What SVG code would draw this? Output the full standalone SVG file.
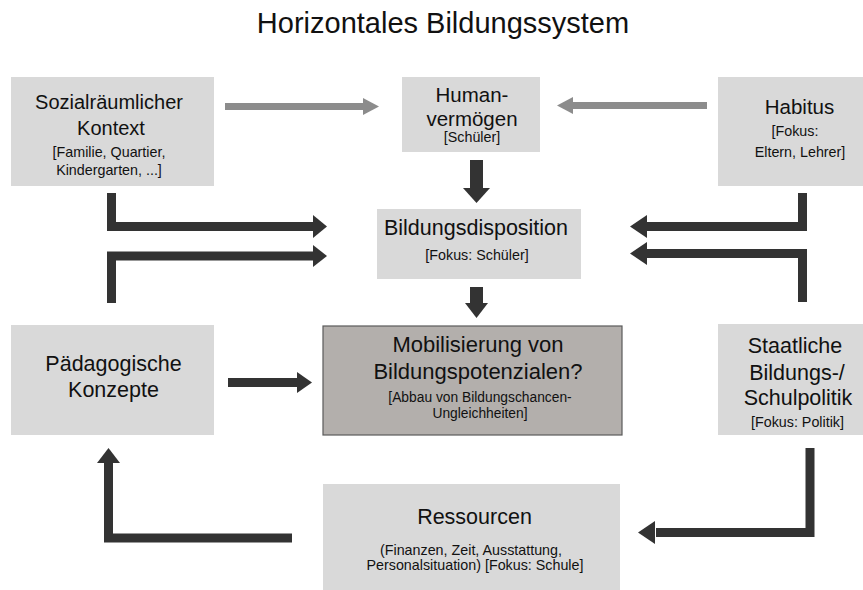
<svg xmlns="http://www.w3.org/2000/svg" width="863" height="590" viewBox="0 0 863 590">
<style>
text{font-family:"Liberation Sans",Arial,sans-serif;fill:#111;text-anchor:middle}
.t{font-size:29px}
.l{font-size:21.5px}
.s{font-size:14.3px}
.box{fill:#d9d9d9}
.dark{fill:#b3afac;stroke:#5a5a5a;stroke-width:1.2}
.bar{fill:none;stroke:#333;stroke-width:9;stroke-linejoin:miter}
.head{fill:#333}
.gbar{fill:none;stroke:#8c8c8c;stroke-width:7}
.ghead{fill:#8c8c8c}
</style>
<rect width="863" height="590" fill="#fff"/>
<text class="t" x="443" y="33">Horizontales Bildungssystem</text>

<g id="sozial">
<rect class="box" x="11" y="77" width="203" height="109"/>
<text class="l" x="109" y="109" style="font-size:20px">Sozialräumlicher</text>
<text class="l" x="111" y="135" style="font-size:20px">Kontext</text>
<text class="s" x="109" y="157">[Familie, Quartier,</text>
<text class="s" x="109" y="175">Kindergarten, ...]</text>
</g>
<g id="human">
<rect class="box" x="402" y="77" width="138" height="75"/>
<text class="l" x="472" y="102" style="font-size:20.5px">Human-</text>
<text class="l" x="472" y="126" style="font-size:20.5px">vermögen</text>
<text class="s" x="472" y="142">[Schüler]</text>
</g>
<g id="habitus">
<rect class="box" x="718" y="77" width="145" height="109"/>
<text class="l" x="799.5" y="114" style="font-size:20.5px">Habitus</text>
<text class="s" x="795" y="136">[Fokus:</text>
<text class="s" x="800" y="157">Eltern, Lehrer]</text>
</g>
<g id="disposition">
<rect class="box" x="377" y="209" width="204" height="70"/>
<text class="l" x="476" y="235">Bildungsdisposition</text>
<text class="s" x="477" y="260">[Fokus: Schüler]</text>
</g>
<g id="paedagogik">
<rect class="box" x="11" y="325" width="203" height="110"/>
<text class="l" x="113.5" y="371">Pädagogische</text>
<text class="l" x="113.5" y="397">Konzepte</text>
</g>
<g id="mobilisierung">
<rect class="dark" x="323" y="326" width="299" height="109"/>
<text class="l" x="478" y="352" style="font-size:22px">Mobilisierung von</text>
<text class="l" x="478" y="379" style="font-size:22px">Bildungspotenzialen?</text>
<text class="s" x="480" y="402" style="font-size:13.8px">[Abbau von Bildungschancen-</text>
<text class="s" x="480" y="418" style="font-size:13.8px">Ungleichheiten]</text>
</g>
<g id="staatlich">
<rect class="box" x="718" y="324" width="145" height="111"/>
<text class="l" x="795" y="353">Staatliche</text>
<text class="l" x="797" y="380">Bildungs-/</text>
<text class="l" x="798" y="405">Schulpolitik</text>
<text class="s" x="797.5" y="427">[Fokus: Politik]</text>
</g>
<g id="ressourcen">
<rect class="box" x="323" y="484" width="297" height="106"/>
<text class="l" x="474.5" y="524">Ressourcen</text>
<text class="s" x="471" y="555">(Finanzen, Zeit, Ausstattung,</text>
<text class="s" x="475" y="570">Personalsituation) [Fokus: Schule]</text>
</g>

<g id="connectors">
<path class="gbar" d="M225 106.5H364"/>
<polygon class="ghead" points="363,98 379,106.5 363,115"/>
<path class="gbar" d="M707 105.5H572"/>
<polygon class="ghead" points="573,97 557,105.5 573,114"/>

<path class="bar" d="M476.5 160V189" style="stroke-width:13"/>
<polygon class="head" points="463,188 490,188 476.5,203"/>
<path class="bar" d="M476.5 287V304" style="stroke-width:13"/>
<polygon class="head" points="465,303 488,303 476.5,318"/>

<path class="bar" d="M111.5 193V226.5H314"/>
<polygon class="head" points="313,215 327,226.5 313,238"/>
<path class="bar" d="M111.5 303V256H314"/>
<polygon class="head" points="313,245 327,256 313,267"/>

<path class="bar" d="M802.5 193V226.5H646"/>
<polygon class="head" points="647,215 630,226.5 647,238"/>
<path class="bar" d="M802.5 302V253.5H646"/>
<polygon class="head" points="647,242 630,253.5 647,265"/>

<path class="bar" d="M228 382.5H298"/>
<polygon class="head" points="297,372 312,382.5 297,393"/>

<path class="bar" d="M292 538H108.5V462"/>
<polygon class="head" points="97,463 108.5,448 120,463"/>

<path class="bar" d="M810 448V532.5H656"/>
<polygon class="head" points="655,521 638,532.5 655,544"/>
</g>
</svg>
